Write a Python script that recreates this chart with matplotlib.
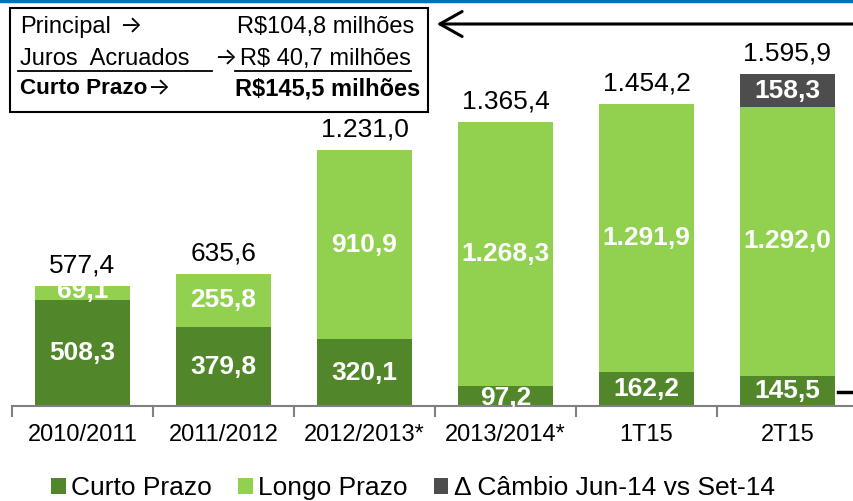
import matplotlib.pyplot as plt
import numpy as np
from matplotlib.lines import Line2D
from matplotlib.patches import FancyArrowPatch, Rectangle

plt.rcParams['font.family'] = ['Liberation Sans', 'DejaVu Sans']

categories = ['2010/2011', '2011/2012', '2012/2013*', '2013/2014*', '1T15', '2T15']
curto = [508.3, 379.8, 320.1, 97.2, 162.2, 145.5]
longo = [69.1, 255.8, 910.9, 1268.3, 1291.9, 1292.0]
cambio = [0, 0, 0, 0, 0, 158.3]
totais = ['577,4', '635,6', '1.231,0', '1.365,4', '1.454,2', '1.595,9']

c_curto = '#51872A'
c_longo = '#92D050'
c_cambio = '#4D4D4D'

W, H = 854, 501
fig = plt.figure(figsize=(W / 100, H / 100), dpi=100)


def px(x, y):
    return x / W, 1 - y / H


ax = fig.add_axes([12 / W, 1 - 406 / H, 846 / W, 406 / H])
x = np.arange(len(categories))
bw = 0.68
curto = np.array(curto)
longo = np.array(longo)
cambio = np.array(cambio)

b1 = ax.bar(x, curto, bw, color=c_curto, label='Curto Prazo')
b2 = ax.bar(x, longo, bw, bottom=curto, color=c_longo, label='Longo Prazo')
b3 = ax.bar(x, cambio, bw, bottom=curto + longo, color=c_cambio,
            label='\u0394 Câmbio Jun-14 vs Set-14')


def fmt(v):
    return f'{v:,.1f}'.replace(',', 'X').replace('.', ',').replace('X', '.')


lab = dict(ha='center', va='center', color='white', fontsize=19, fontweight='bold')
for i in range(len(x)):
    ax.text(x[i], curto[i] / 2 - (8 if curto[i] < 120 else 0), fmt(curto[i]), **lab)
    ax.text(x[i], curto[i] + longo[i] / 2 + (12 if longo[i] < 100 else 0), fmt(longo[i]), **lab)
    if cambio[i] > 0:
        ax.text(x[i], curto[i] + longo[i] + cambio[i] / 2, fmt(cambio[i]), **lab)
    top = curto[i] + longo[i] + cambio[i]
    ax.annotate(totais[i], (x[i], top), xytext=(0, 6), textcoords='offset points',
                ha='center', va='bottom', fontsize=19)

ax.set_xlim(-0.5, len(x) - 0.5)
ax.set_ylim(0, 406 / 0.2079)
ax.set_xticks(x)
ax.set_xticklabels(categories, fontsize=17)
ax.set_xticks(np.arange(-0.5, len(x), 1), minor=True)
ax.tick_params(axis='x', which='major', length=0, pad=13)
ax.tick_params(axis='x', which='minor', length=8, color='#808080', width=1.5, direction='out')
ax.set_yticks([])
for s in ['top', 'right', 'left']:
    ax.spines[s].set_visible(False)
ax.spines['bottom'].set_color('#808080')
ax.spines['bottom'].set_linewidth(1.5)

# top blue line
fig.add_artist(Line2D([0, 1], [px(0, 1)[1]] * 2, color='#0070C0', lw=2.5))

# text box
bx0, by0 = px(10, 112)
bx1, by1 = px(428, 8)
fig.add_artist(Rectangle((bx0, by0), bx1 - bx0, by1 - by0, fill=False,
                         edgecolor='black', lw=1.5))
fs = 17
arrow_kw = dict(fontsize=17, va='center', family=['Inter', 'DejaVu Sans'])
fig.text(*px(20, 27), 'Principal', fontsize=fs, va='center')
fig.text(*px(119, 27), '\u2192', **arrow_kw)
fig.text(*px(414, 27), 'R$104,8 milhões', fontsize=fs, va='center', ha='right')
fig.text(*px(20, 59), 'Juros  Acruados', fontsize=fs, va='center')
fig.text(*px(214, 59), '\u2192', **arrow_kw)
fig.text(*px(411, 59), 'R$ 40,7 milhões', fontsize=fs, va='center', ha='right')
fig.add_artist(Line2D([px(18, 0)[0], px(212, 0)[0]], [px(0, 71)[1]] * 2, color='black', lw=1.3))
fig.add_artist(Line2D([px(235, 0)[0], px(411, 0)[0]], [px(0, 71)[1]] * 2, color='black', lw=1.3))
fig.text(*px(20, 89), 'Curto Prazo', fontsize=16.2, va='center', fontweight='bold')
fig.text(*px(147, 89), '\u2192', **arrow_kw)
fig.text(*px(420, 89), 'R$145,5 milhões', fontsize=fs, va='center', ha='right', fontweight='bold')

# arrows
fig.add_artist(FancyArrowPatch(
    px(856, 24), px(434, 24), arrowstyle='->,head_length=16,head_width=9',
    color='black', lw=2.2, mutation_scale=1))
fig.add_artist(Line2D([px(838, 0)[0], px(856, 0)[0]], [px(0, 392)[1]] * 2, color='black', lw=2.5))

fig.legend(handles=[b1, b2, b3], loc='center', bbox_to_anchor=(px(413, 0)[0], px(0, 488)[1]),
           ncol=3, frameon=False, fontsize=19, handlelength=0.55, handleheight=0.55,
           handletextpad=0.2, columnspacing=1.0)

fig.savefig('out.png', dpi=100)
